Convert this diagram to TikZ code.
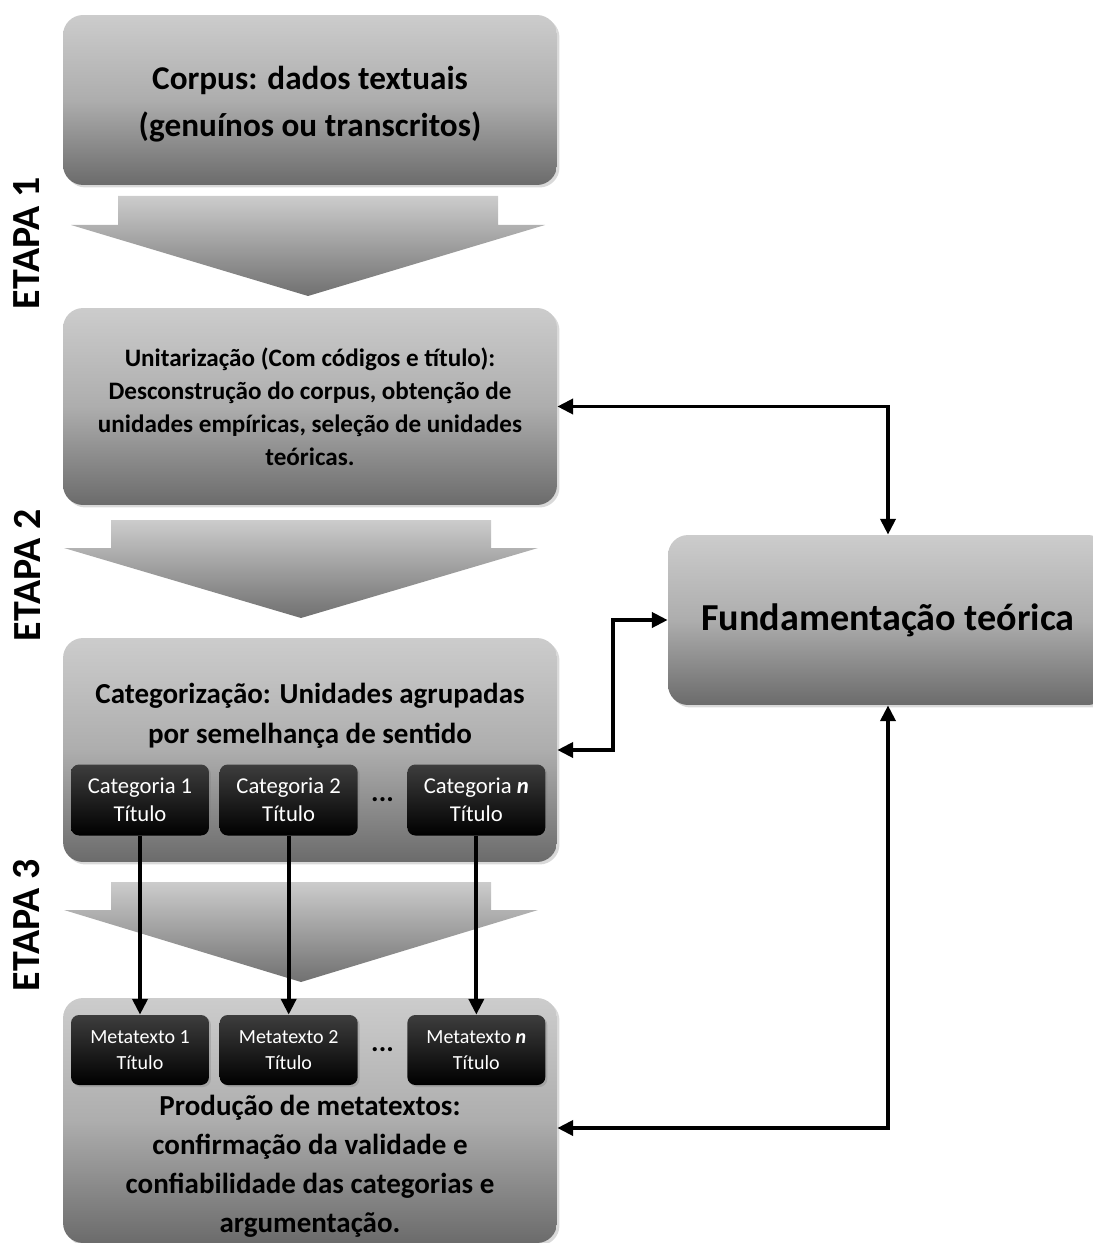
\documentclass[tikz,border=0pt]{standalone}
\usepackage{fontspec}
\setmainfont{Carlito}
\usepackage{xcolor}
\usetikzlibrary{positioning}
\usetikzlibrary{shadows}
\usetikzlibrary{arrows.meta}

\definecolor{boxtop}{gray}{0.80}
\definecolor{boxmid}{gray}{0.68}
\definecolor{boxbot}{gray}{0.42}
\definecolor{arrtop}{gray}{0.80}
\definecolor{arrbot}{gray}{0.44}
\definecolor{cattop}{gray}{0.24}

\begin{document}
\begin{tikzpicture}[
  x=0.02cm, y=-0.02cm,
  stage/.style={
    rounded corners=0.4cm, top color=boxtop, bottom color=boxbot, middle color=boxmid,
    minimum width=9.88cm, align=center,
    drop shadow={opacity=.3, shadow xshift=.05cm, shadow yshift=-.05cm}
  },
  stagetext/.style={align=center},
  catbox/.style={
    rounded corners=0.16cm, top color=cattop, bottom color=black, text=white,
    minimum width=2.76cm, minimum height=1.42cm, align=center, inner sep=1pt,
    font=\fontsize{12.9}{16}\selectfont,
    drop shadow={opacity=.35, shadow xshift=.04cm, shadow yshift=-.04cm}
  },
  metabox/.style={catbox, minimum height=1.4cm, font=\fontsize{11.4}{14.8}\selectfont},
  etapa/.style={rotate=90, font=\fontsize{22.7}{22.7}\selectfont\bfseries},
  oneway/.style={line width=2.2pt, -{Triangle[length=9pt,width=8.5pt]}},
  twoway/.style={line width=2.2pt, {Triangle[length=9pt,width=8.5pt]}-{Triangle[length=9pt,width=8.5pt]}}
]
\useasboundingbox (0,0) rectangle (1092,1243);

% the four stages
\node (corpus) [stage, minimum height=3.4cm] at (310,100) {};
\node (corpustxt) [stagetext, font=\fontsize{18.9}{26.6}\selectfont\bfseries] at (310,104)
  {Corpus: dados textuais\\(genuínos ou transcritos)};

\node (unit) [stage, minimum height=3.94cm, font=\fontsize{14.3}{18.7}\selectfont\bfseries] at (310,406.5)
  {Unitarização (Com códigos e título):\\
   Desconstrução do corpus, obtenção de\\
   unidades empíricas, seleção de unidades\\
   teóricas.};

\node (categ) [stage, minimum height=4.48cm] at (310,750) {};
\node (categtxt) [stagetext, font=\fontsize{16.5}{22.7}\selectfont\bfseries] at (310,716)
  {Categorização: Unidades agrupadas\\por semelhança de sentido};

\node (prod) [stage, minimum height=4.9cm] at (310,1120.5) {};
\node (prodtxt) [stagetext, font=\fontsize{16.5}{22.2}\selectfont\bfseries] at (310,1166)
  {Produção de metatextos:\\
   confirmação da validade e\\
   confiabilidade das categorias e\\
   argumentação.};

\node (fund) [stage, minimum width=8.8cm, minimum height=3.4cm, font=\fontsize{21.7}{26}\selectfont\bfseries] at (888,620)
  {Fundamentação teórica};

% categories
\node (cat1) [catbox] at (140,800) {Categoria 1\\Título};
\node (cat2) [catbox, right=0.2cm of cat1] {Categoria 2\\Título};
\node (cat3) [catbox, right=0.98cm of cat2] {Categoria \textbf{\textit{n}}\\Título};
\path (cat2) -- node (dotsc) {\bfseries\fontsize{16}{16}\selectfont ...} (cat3);

% metatexts
\node (meta1) [metabox] at (140,1050) {Metatexto 1\\Título};
\node (meta2) [metabox, right=0.2cm of meta1] {Metatexto 2\\Título};
\node (meta3) [metabox, right=0.98cm of meta2] {Metatexto \textbf{\textit{n}}\\Título};
\path (meta2) -- node (dotsm) {\bfseries\fontsize{16}{16}\selectfont ...} (meta3);

% big down arrows
\foreach \ya/\yb/\yc/\xc in {196/225/296/308, 520/548/618/301, 882/910/982/301}
  \shade[top color=arrtop, bottom color=arrbot]
    ({\xc-190},\ya) -- ({\xc+190},\ya) -- ({\xc+190},\yb) -- ({\xc+237},\yb)
    -- (\xc,\yc) -- ({\xc-237},\yb) -- ({\xc-190},\yb) -- cycle;

% stage labels
\node (etapa1) [etapa] at (27,243) {ETAPA 1};
\node (etapa2) [etapa] at (27,575) {ETAPA 2};
\node (etapa3) [etapa] at (27,925) {ETAPA 3};

% connectors
\foreach \i in {1,2,3}
  \draw[oneway] (cat\i) -- (meta\i);

\draw[twoway] (unit.east) -| (fund.north);
\draw[twoway] (categ.east) -- ++(56,0) |- (fund.west);
\draw[twoway] ([yshift=-0.15cm]prod.east) -| (fund.south);

\end{tikzpicture}
\end{document}
